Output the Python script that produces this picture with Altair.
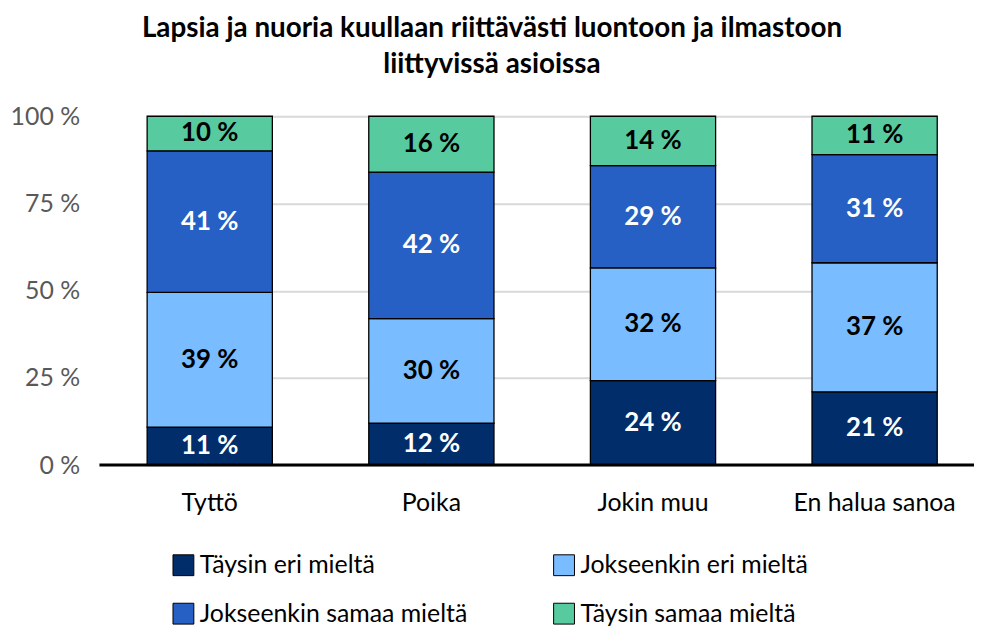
import altair as alt
import pandas as pd

categories = ["Tyttö", "Poika", "Jokin muu", "En halua sanoa"]
series = ["Täysin eri mieltä", "Jokseenkin eri mieltä", "Jokseenkin samaa mieltä", "Täysin samaa mieltä"]
taysin_eri = [11, 12, 24, 21]
jokseenkin_eri = [39, 30, 32, 37]
jokseenkin_samaa = [41, 42, 29, 31]
taysin_samaa = [10, 16, 14, 11]
colors = ["#012d6b", "#79bcff", "#2660c4", "#57cb9f"]
text_colors = ["white", "black", "white", "black"]
title_lines = ["Lapsia ja nuoria kuullaan riittävästi luontoon ja ilmastoon", "liittyvissä asioissa"]

FONT = "Lato"

rows = []
for s_i, (s, vals) in enumerate(zip(series, [taysin_eri, jokseenkin_eri, jokseenkin_samaa, taysin_samaa])):
    for c, v in zip(categories, vals):
        rows.append({"category": c, "series": s, "value": v, "order": s_i,
                     "label": f"{v} %", "tcolor": text_colors[s_i]})
df = pd.DataFrame(rows)

x_enc = alt.X("category:N", sort=categories, title=None,
              scale=alt.Scale(range=[48, 843], paddingInner=0.435, paddingOuter=0),
              axis=alt.Axis(labelAngle=0, labelFont=FONT, labelFontSize=25, labelColor="black",
                            labelPadding=26, domain=False, ticks=False))

base = alt.Chart(df).transform_joinaggregate(
    total="sum(value)", groupby=["category"]
).transform_calculate(
    pct="datum.value / datum.total"
).transform_stack(
    stack="pct", as_=["y0", "y1"], groupby=["category"], sort=[alt.SortField("order")]
).transform_calculate(
    mid="(datum.y0 + datum.y1) / 2"
)

bars = base.mark_bar(stroke="black", strokeWidth=1.3).encode(
    x=x_enc,
    y=alt.Y("y0:Q", title=None,
            scale=alt.Scale(domain=[0, 1], nice=False),
            axis=alt.Axis(values=[0, 0.25, 0.5, 0.75, 1], labelExpr="round(datum.value*100) + ' %'",
                          labelFont=FONT, labelFontSize=25, labelColor="#595959", labelPadding=20,
                          domain=False, ticks=False, gridColor="#d9d9d9", gridWidth=2)),
    y2="y1:Q",
    color=alt.Color("series:N", sort=series,
                    scale=alt.Scale(domain=series, range=colors),
                    legend=alt.Legend(title=None, orient="none", legendX=72, legendY=439,
                                      direction="horizontal",
                                      columns=2, columnPadding=84, rowPadding=23, padding=0,
                                      symbolType="square", symbolSize=440, symbolStrokeColor="black",
                                      symbolStrokeWidth=1, symbolOpacity=1, labelOffset=4,
                                      labelFont=FONT, labelFontSize=25, labelColor="black",
                                      labelLimit=400)),
    order=alt.Order("order:Q"),
)

texts = base.mark_text(font=FONT, fontSize=26, fontWeight="bold").encode(
    x=x_enc,
    y=alt.Y("mid:Q"),
    text="label:N",
    color=alt.Color("tcolor:N", scale=None),
)

zero = alt.Chart(pd.DataFrame({"y": [0]})).mark_rule(color="black", strokeWidth=3).encode(y="y:Q")

chart = alt.layer(bars, texts, zero).properties(
    width=880, height=351,
    padding={"left": 92, "top": 107, "right": 0, "bottom": 164},
    autosize=alt.AutoSizeParams(type="none"),
    title=alt.TitleParams(text=title_lines, font=FONT, fontSize=28, fontWeight="bold", color="black",
                          anchor="middle", frame="group", dx=-45, offset=26, lineHeight=36),
).configure_view(stroke=None)

chart.save("out.html", embed_options={"renderer": "svg", "actions": False})
